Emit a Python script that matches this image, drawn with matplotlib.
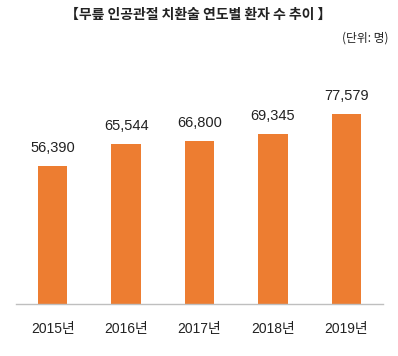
import matplotlib
matplotlib.use("Agg")
import matplotlib.pyplot as plt

years = ["2015년", "2016년", "2017년", "2018년", "2019년"]
patients = [56390, 65544, 66800, 69345, 77579]
title = "【무릎 인공관절 치환술 연도별 환자 수 추이 】"
unit = "(단위: 명)"

fam = ["Liberation Sans", "Noto Sans CJK KR", "DejaVu Sans"]
plt.rcParams['font.family'] = fam

fig = plt.figure(figsize=(3.98, 3.56), dpi=100)
ax = fig.add_axes([16/398, 52/356, (383-16)/398, (304-84)/356])
x = list(range(len(years)))
ax.bar(x, patients, width=0.4, color="#ED7D31")
ax.set_xlim(-0.5, 4.5)
ax.set_ylim(0, 90000)
for s in ["top", "right", "left"]:
    ax.spines[s].set_visible(False)
ax.spines["bottom"].set_color("#bfbfbf")
ax.spines["bottom"].set_linewidth(1)
ax.set_yticks([])
ax.set_xticks(x)
ax.set_xticklabels(years, fontsize=10, color="#222222")
ax.tick_params(axis="x", length=0, pad=13)
for xi, v in zip(x, patients):
    ax.annotate(f"{v:,}", (xi, v), xytext=(0, 8), textcoords="offset points",
                ha="center", va="bottom", fontsize=10.5, color="#222222")
fig.text(198/398, 1 - 15/356, title, ha="center", va="center", fontsize=10,
         fontweight="bold", family=["Noto Sans CJK KR", "DejaVu Sans"], color="#222222")
fig.text(388/398, 1 - 38/356, unit, ha="right", va="center", fontsize=8.5,
         family=["Noto Sans CJK KR", "DejaVu Sans"], color="#222222")
fig.savefig("out.png", dpi=100)
